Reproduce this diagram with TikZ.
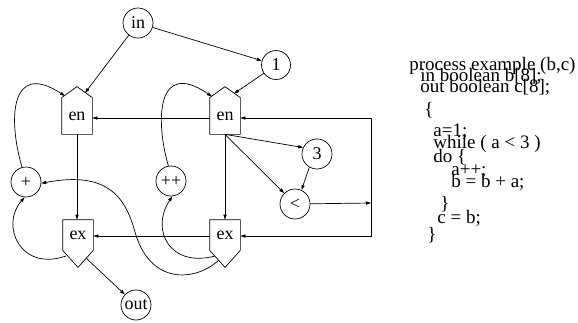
\documentclass[tikz,border=0pt]{standalone}
\usepackage{fontspec}
\setmainfont{Liberation Serif}
\usetikzlibrary{arrows.meta}
\begin{document}
\begin{tikzpicture}[x=1pt,y=-1pt, line width=0.7pt,
  >={Triangle[length=5pt,width=3.2pt]},
  lbl/.style={font=\fontsize{18}{18}\selectfont},
  circ/.style={circle,draw,minimum size=30pt,inner sep=0pt,lbl},
  portbox/.style={draw=none,minimum width=30pt,inner sep=0pt,lbl},
  codeline/.style={anchor=base west,inner sep=0pt,font=\fontsize{19}{19}\selectfont}]
\useasboundingbox (0,0) rectangle (578,322);

% circles
\node[circ] (in) at (138,23) {in};
\node[circ, minimum size=29pt] (one) at (276,65) {1};
\node[circ] (plus) at (26,182) {+};
\node[circ] (pp) at (171,181) {++};
\node[circ] (three) at (317,154) {3};
\node[circ] (lt) at (295,204) {<};
\node[circ] (out) at (136,305) {out};

% entry / exit boxes
\node[portbox,minimum height=36pt] (enL) at (77,116) {en};
\node[portbox,minimum height=36pt] (enR) at (225,116) {en};
\node[portbox,minimum height=30pt] (exL) at (78,235) {ex};
\node[portbox,minimum height=30pt] (exR) at (225,235) {ex};
\foreach \n in {enL,enR}
  \draw (\n.south west) -- (\n.north west) -- ([yshift=11pt]\n.north) -- (\n.north east) -- (\n.south east) -- cycle;
\foreach \n in {exL,exR}
  \draw (\n.north west) -- (\n.south west) -- ([yshift=-17pt]\n.south) -- (\n.south east) -- (\n.north east) -- cycle;

% points on the slanted edges
\coordinate (enLtr) at (85,93);
\coordinate (enLtl) at (65,96);
\coordinate (enRtr) at (234,93.6);
\coordinate (enRtl) at (212,96.5);
\coordinate (exLbr) at (86,258);
\coordinate (exLbl) at (66,256);
\coordinate (exRbla) at (215,256);
\coordinate (exRblb) at (219,260);
\coordinate (j) at (371,203);

% connectors
\draw[->] (in) -- (enLtr);
\draw[->] (in) -- (one);
\draw[->] (one) -- (enRtr);
\draw[->] ([yshift=-2pt]enR.west) -- ([yshift=-2pt]enL.east);
\draw[->] (enL.south) -- (enL.south |- exL.north);
\draw[->] (enR.south) -- (exR.north);
\draw[->] (enR.south) -- (three.155);
\draw[->] (enR.south) -- (lt);
\draw[->] (three.-120) -- (lt.65);
\draw[->] (lt) -- (j);
\draw[->] (j) |- ([yshift=-2pt]enR.east);
\draw[->] (j) |- ([yshift=-1pt]exR.east);
\draw[->] ([yshift=-1pt]exR.west) -- ([yshift=-1pt]exL.east);
\draw[->] (exLbr) -- (out);
\draw[->] (plus.105) .. controls (8,120) and (10,60) .. (enLtl);
\draw[->] (exLbl) .. controls (20,272) and (0,225) .. (plus.-95);
\draw[->] (pp.100) .. controls (155,119) and (157,59) .. (enRtl);
\draw[->] (exRbla) .. controls (170,268) and (150,230) .. (pp.-85);
\draw[->] (exRblb) .. controls (195,282) and (150,285) .. (135,232)
                   .. controls (126,200) and (110,170) .. (plus.-5);

% program text
\node[codeline] (c1) at (409,70) {process example (b,c)};
\node[codeline] (c2) at (420,81) {in boolean b[8];};
\node[codeline] (c3) at (420,92) {out boolean c[8];};
\node[codeline] (c4) at (424,115) {\{};
\node[codeline] (c5) at (433,136) {a=1;};
\node[codeline] (c6) at (433,148) {while ( a < 3 )};
\node[codeline] (c7) at (433,162) {do \{};
\node[codeline] (c8) at (451,175) {a++;};
\node[codeline] (c9) at (451,187) {b = b + a;};
\node[codeline] (c10) at (440,209) {\}};
\node[codeline] (c11) at (437,223) {c = b;};
\node[codeline] (c12) at (427,240) {\}};
\end{tikzpicture}
\end{document}
